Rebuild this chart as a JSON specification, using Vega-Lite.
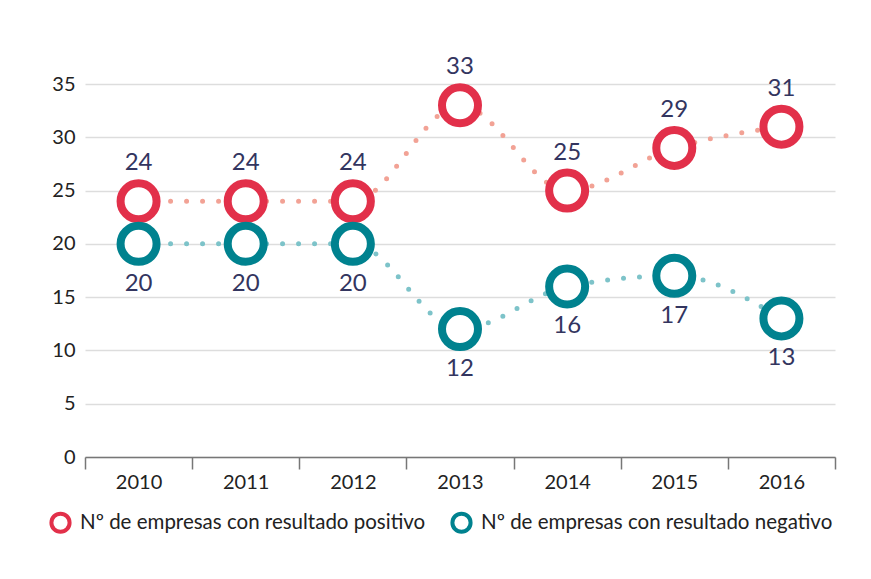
{
  "$schema": "https://vega.github.io/schema/vega-lite/v6.json",
  "autosize": {"type": "none"},
  "width": 750,
  "height": 373,
  "padding": {"left": 85, "top": 84, "right": 36, "bottom": 122},
  "background": "white",
  "config": {
    "font": "Lato",
    "view": {"stroke": null}
  },
  "data": {
    "values": [
      {"year": "2010", "serie": "Nº de empresas con resultado positivo", "value": 24},
      {"year": "2011", "serie": "Nº de empresas con resultado positivo", "value": 24},
      {"year": "2012", "serie": "Nº de empresas con resultado positivo", "value": 24},
      {"year": "2013", "serie": "Nº de empresas con resultado positivo", "value": 33},
      {"year": "2014", "serie": "Nº de empresas con resultado positivo", "value": 25},
      {"year": "2015", "serie": "Nº de empresas con resultado positivo", "value": 29},
      {"year": "2016", "serie": "Nº de empresas con resultado positivo", "value": 31},
      {"year": "2010", "serie": "Nº de empresas con resultado negativo", "value": 20},
      {"year": "2011", "serie": "Nº de empresas con resultado negativo", "value": 20},
      {"year": "2012", "serie": "Nº de empresas con resultado negativo", "value": 20},
      {"year": "2013", "serie": "Nº de empresas con resultado negativo", "value": 12},
      {"year": "2014", "serie": "Nº de empresas con resultado negativo", "value": 16},
      {"year": "2015", "serie": "Nº de empresas con resultado negativo", "value": 17},
      {"year": "2016", "serie": "Nº de empresas con resultado negativo", "value": 13}
    ]
  },
  "encoding": {
    "x": {
      "field": "year", "type": "ordinal",
      "scale": {"paddingInner": 0, "paddingOuter": 0},
      "axis": {
        "title": null, "labelAngle": 0, "labelFontSize": 20, "labelColor": "#222",
        "labelPadding": 3, "domainColor": "#777", "domainWidth": 1.5,
        "tickColor": "#777", "tickWidth": 1.5, "tickSize": 12, "tickBand": "extent"
      }
    },
    "y": {
      "field": "value", "type": "quantitative",
      "scale": {"domain": [0, 35], "nice": false},
      "axis": {
        "title": null, "values": [0, 5, 10, 15, 20, 25, 30, 35], "labelFontSize": 20,
        "labelColor": "#222", "labelPadding": 10, "ticks": false, "domain": false,
        "gridColor": "#dddddd", "gridWidth": 1.5
      }
    }
  },
  "layer": [
    {
      "transform": [{"filter": "datum.serie === 'Nº de empresas con resultado positivo'"}],
      "mark": {"type": "line", "interpolate": "monotone", "strokeDash": [0, 16], "strokeCap": "round", "strokeWidth": 5, "color": "#F2A295"},
      "encoding": {}
    },
    {
      "transform": [{"filter": "datum.serie === 'Nº de empresas con resultado negativo'"}],
      "mark": {"type": "line", "interpolate": "monotone", "strokeDash": [0, 16], "strokeCap": "round", "strokeWidth": 5, "color": "#7DC3C9"},
      "encoding": {}
    },
    {
      "mark": {"type": "point", "shape": "circle", "filled": true, "fill": "white", "size": 1296, "strokeWidth": 8, "opacity": 1},
      "encoding": {
        "stroke": {
          "field": "serie", "type": "nominal",
          "scale": {"domain": ["Nº de empresas con resultado positivo", "Nº de empresas con resultado negativo"], "range": ["#E2304A", "#00828F"]},
          "legend": {
            "title": null, "orient": "none", "legendX": -36, "legendY": 427, "direction": "horizontal",
            "labelFontSize": 20.5, "labelColor": "#222", "symbolType": "circle", "symbolSize": 330,
            "symbolStrokeWidth": 4, "symbolFillColor": "white", "columnPadding": 18, "labelOffset": 8,
            "labelLimit": 400
          }
        }
      }
    },
    {
      "transform": [{"filter": "datum.serie === 'Nº de empresas con resultado positivo'"}],
      "mark": {"type": "text", "dy": -38, "fontSize": 24, "color": "#33355F", "baseline": "middle"},
      "encoding": {"text": {"field": "value", "type": "quantitative"}}
    },
    {
      "transform": [{"filter": "datum.serie === 'Nº de empresas con resultado negativo'"}],
      "mark": {"type": "text", "dy": 40, "fontSize": 24, "color": "#33355F", "baseline": "middle"},
      "encoding": {"text": {"field": "value", "type": "quantitative"}}
    }
  ]
}
